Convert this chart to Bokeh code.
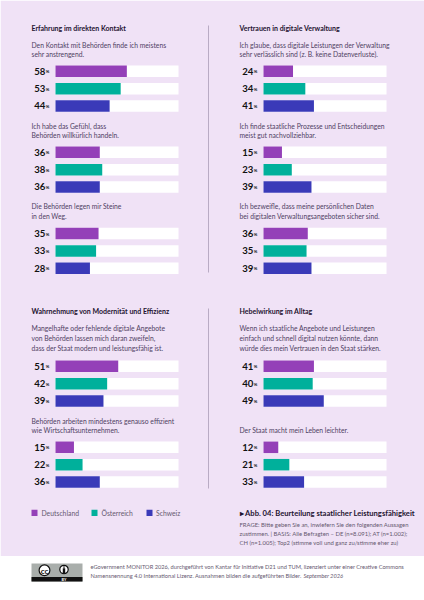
from bokeh.plotting import figure
from bokeh.models import Range1d
from bokeh.core.properties import value
from bokeh.embed import file_html
from bokeh.resources import INLINE

# ---------- data ----------
countries = ["Deutschland", "Österreich", "Schweiz"]
panel_titles = ["Erfahrung im direkten Kontakt", "Vertrauen in digitale Verwaltung",
                "Wahrnehmung von Modernität und Effizienz", "Hebelwirkung im Alltag"]
statements_p1 = [["Den Kontakt mit Behörden finde ich meistens", "sehr anstrengend."],
                 ["Ich habe das Gefühl, dass", "Behörden willkürlich handeln."],
                 ["Die Behörden legen mir Steine", "in den Weg."]]
statements_p2 = [["Ich glaube, dass digitale Leistungen der Verwaltung", "sehr verlässlich sind (z. B. keine Datenverluste)."],
                 ["Ich finde staatliche Prozesse und Entscheidungen", "meist gut nachvollziehbar."],
                 ["Ich bezweifle, dass meine persönlichen Daten", "bei digitalen Verwaltungsangeboten sicher sind."]]
statements_p3 = [["Mangelhafte oder fehlende digitale Angebote", "von Behörden lassen mich daran zweifeln,", "dass der Staat modern und leistungsfähig ist."],
                 ["Behörden arbeiten mindestens genauso effizient", "wie Wirtschaftsunternehmen."]]
statements_p4 = [["Wenn ich staatliche Angebote und Leistungen", "einfach und schnell digital nutzen könnte, dann", "würde dies mein Vertrauen in den Staat stärken."],
                 ["Der Staat macht mein Leben leichter."]]
values_p1 = [[58, 53, 44], [36, 38, 36], [35, 33, 28]]
values_p2 = [[24, 34, 41], [15, 23, 39], [36, 35, 39]]
values_p3 = [[51, 42, 39], [15, 22, 36]]
values_p4 = [[41, 40, 49], [12, 21, 33]]
fig_title = "▸ Abb. 04: Beurteilung staatlicher Leistungsfähigkeit"
note_lines = ["FRAGE: Bitte geben Sie an, inwiefern Sie den folgenden Aussagen",
              "zustimmen. | BASIS: Alle Befragten – DE (n=8.091); AT (n=1.002);",
              "CH (n=1.005); Top2 (stimme voll und ganz zu/stimme eher zu)"]
footer_lines = ["eGovernment MONITOR 2026, durchgeführt von Kantar für Initiative D21 und TUM, lizenziert unter einer Creative Commons",
                "Namensnennung 4.0 International Lizenz. Ausnahmen bilden die aufgeführten Bilder. "]
footer_date = "September 2026"

# ---------- style / layout ----------
BG = "#f0e2f6"
COLORS = ["#9440b8", "#00b09b", "#3a3ab8"]
INK = "#1e1330"
TXT = "#4f4163"
GREY = "#665970"
FONT = "Lato"
W, H = 424, 600
SCALE = 1.23

p = figure(width=W, height=H, output_backend="svg", toolbar_location=None,
           x_range=Range1d(0, W), y_range=Range1d(H, 0),
           min_border=0, background_fill_color="white", border_fill_color="white", outline_line_color=None)
p.axis.visible = False
p.grid.visible = False
for name, x0 in (("L", 55.0), ("R", 263.0)):
    p.extra_x_ranges[name] = Range1d((0 - x0) / SCALE, (W - x0) / SCALE)

p.quad(left=0, right=W, top=0, bottom=555.6, fill_color=BG, line_color=None)


def txt(x, y, s, size=6.75, color=TXT, style="normal", align="left", rng="default", font=FONT, dy=-0.8):
    p.text([x], [y + dy], text=[s], text_font=value(font), text_font_size=f"{size}px", text_color=color,
           text_font_style=style, text_align=align, text_baseline="middle", x_range_name=rng)


ROW_H = 11.5
panels = [
    (31, "L", 28.3, panel_titles[0], statements_p1, values_p1, [70.8, 151.8, 233.0], [[45, 54.6], [126.1, 135.7], [206.2, 216]]),
    (239, "R", 28.3, panel_titles[1], statements_p2, values_p2, [70.8, 151.8, 233.0], [[45, 54.6], [126.1, 135.7], [206.2, 216]]),
    (31, "L", 311.3, panel_titles[2], statements_p3, values_p3, [365.8, 446.8], [[328.6, 338.2, 347.8], [420.8, 430.4]]),
    (239, "R", 311.3, panel_titles[3], statements_p4, values_p4, [365.8, 446.8], [[328.6, 338.2, 347.8], [430.4]]),
]
for tx, rng, ty, title, stm, vals, y0s, ly in panels:
    txt(tx, ty, title, size=7.0, color=INK, style="bold")
    for lines, lys, group, y0 in zip(stm, ly, vals, y0s):
        for s, y in zip(lines, lys):
            txt(tx, y, s)
        ys = [y0 + i * 17.4 for i in range(3)]
        p.hbar(y=ys, left=0, right=100, height=ROW_H, fill_color="white", line_color=None, x_range_name=rng)
        p.hbar(y=ys, left=0, right=group, height=ROW_H, fill_color=COLORS, line_color=None, x_range_name=rng)
        for v, y in zip(group, ys):
            txt(-8.2, y, str(v), size=9.6, color="#111111", style="bold", align="right", rng=rng, dy=-0.3)
            txt(-8.0, y + 0.9, "%", size=4.4, color="#111111", style="bold", rng=rng, dy=-0.3)

# dividers
p.segment([208, 208], [25, 308], [208, 208], [272, 488], line_color="#b9abc4", line_width=1)

# legend
for x, tx_, c, n in zip([31, 91, 146], [41, 101, 155.5], COLORS, countries):
    p.quad(left=x, right=x + 6, top=509.2, bottom=515.4, fill_color=c, line_color=None)
    txt(tx_, 513, n, size=6.8, color=GREY)

# figure caption
txt(239, 513.2, fig_title, size=7.6, color=INK, style="bold")
for s, y in zip(note_lines, [525.2, 534, 542.6]):
    txt(239, y, s, size=5.9, color=GREY)

# footer
for s, y in zip(footer_lines, [567, 576]):
    txt(90, y, s, size=5.7, color=GREY)
txt(303, 576, footer_date, size=5.7, color=GREY, style="italic")

# CC badge
p.quad(left=31, right=82, top=563, bottom=581, fill_color="#a9aeab", line_color=None)
p.quad(left=31, right=82, top=576.5, bottom=581, fill_color="#111111", line_color=None)
p.circle(x=[44, 63.5], y=[569.8, 569], radius=[5.4, 4.2], fill_color="white", line_color="#111111", line_width=1.2)
txt(44, 570, "cc", size=8, color="#111111", style="bold", align="center", dy=0)
p.circle(x=[63.5], y=[566.6], radius=[0.8], fill_color="#111111", line_color=None)
p.quad(left=62.3, right=64.7, top=567.8, bottom=572.5, fill_color="#111111", line_color=None)
txt(63.5, 578.8, "BY", size=3.8, color="white", style="bold", align="center", dy=0)

open("out.html", "w").write(file_html(p, INLINE))
